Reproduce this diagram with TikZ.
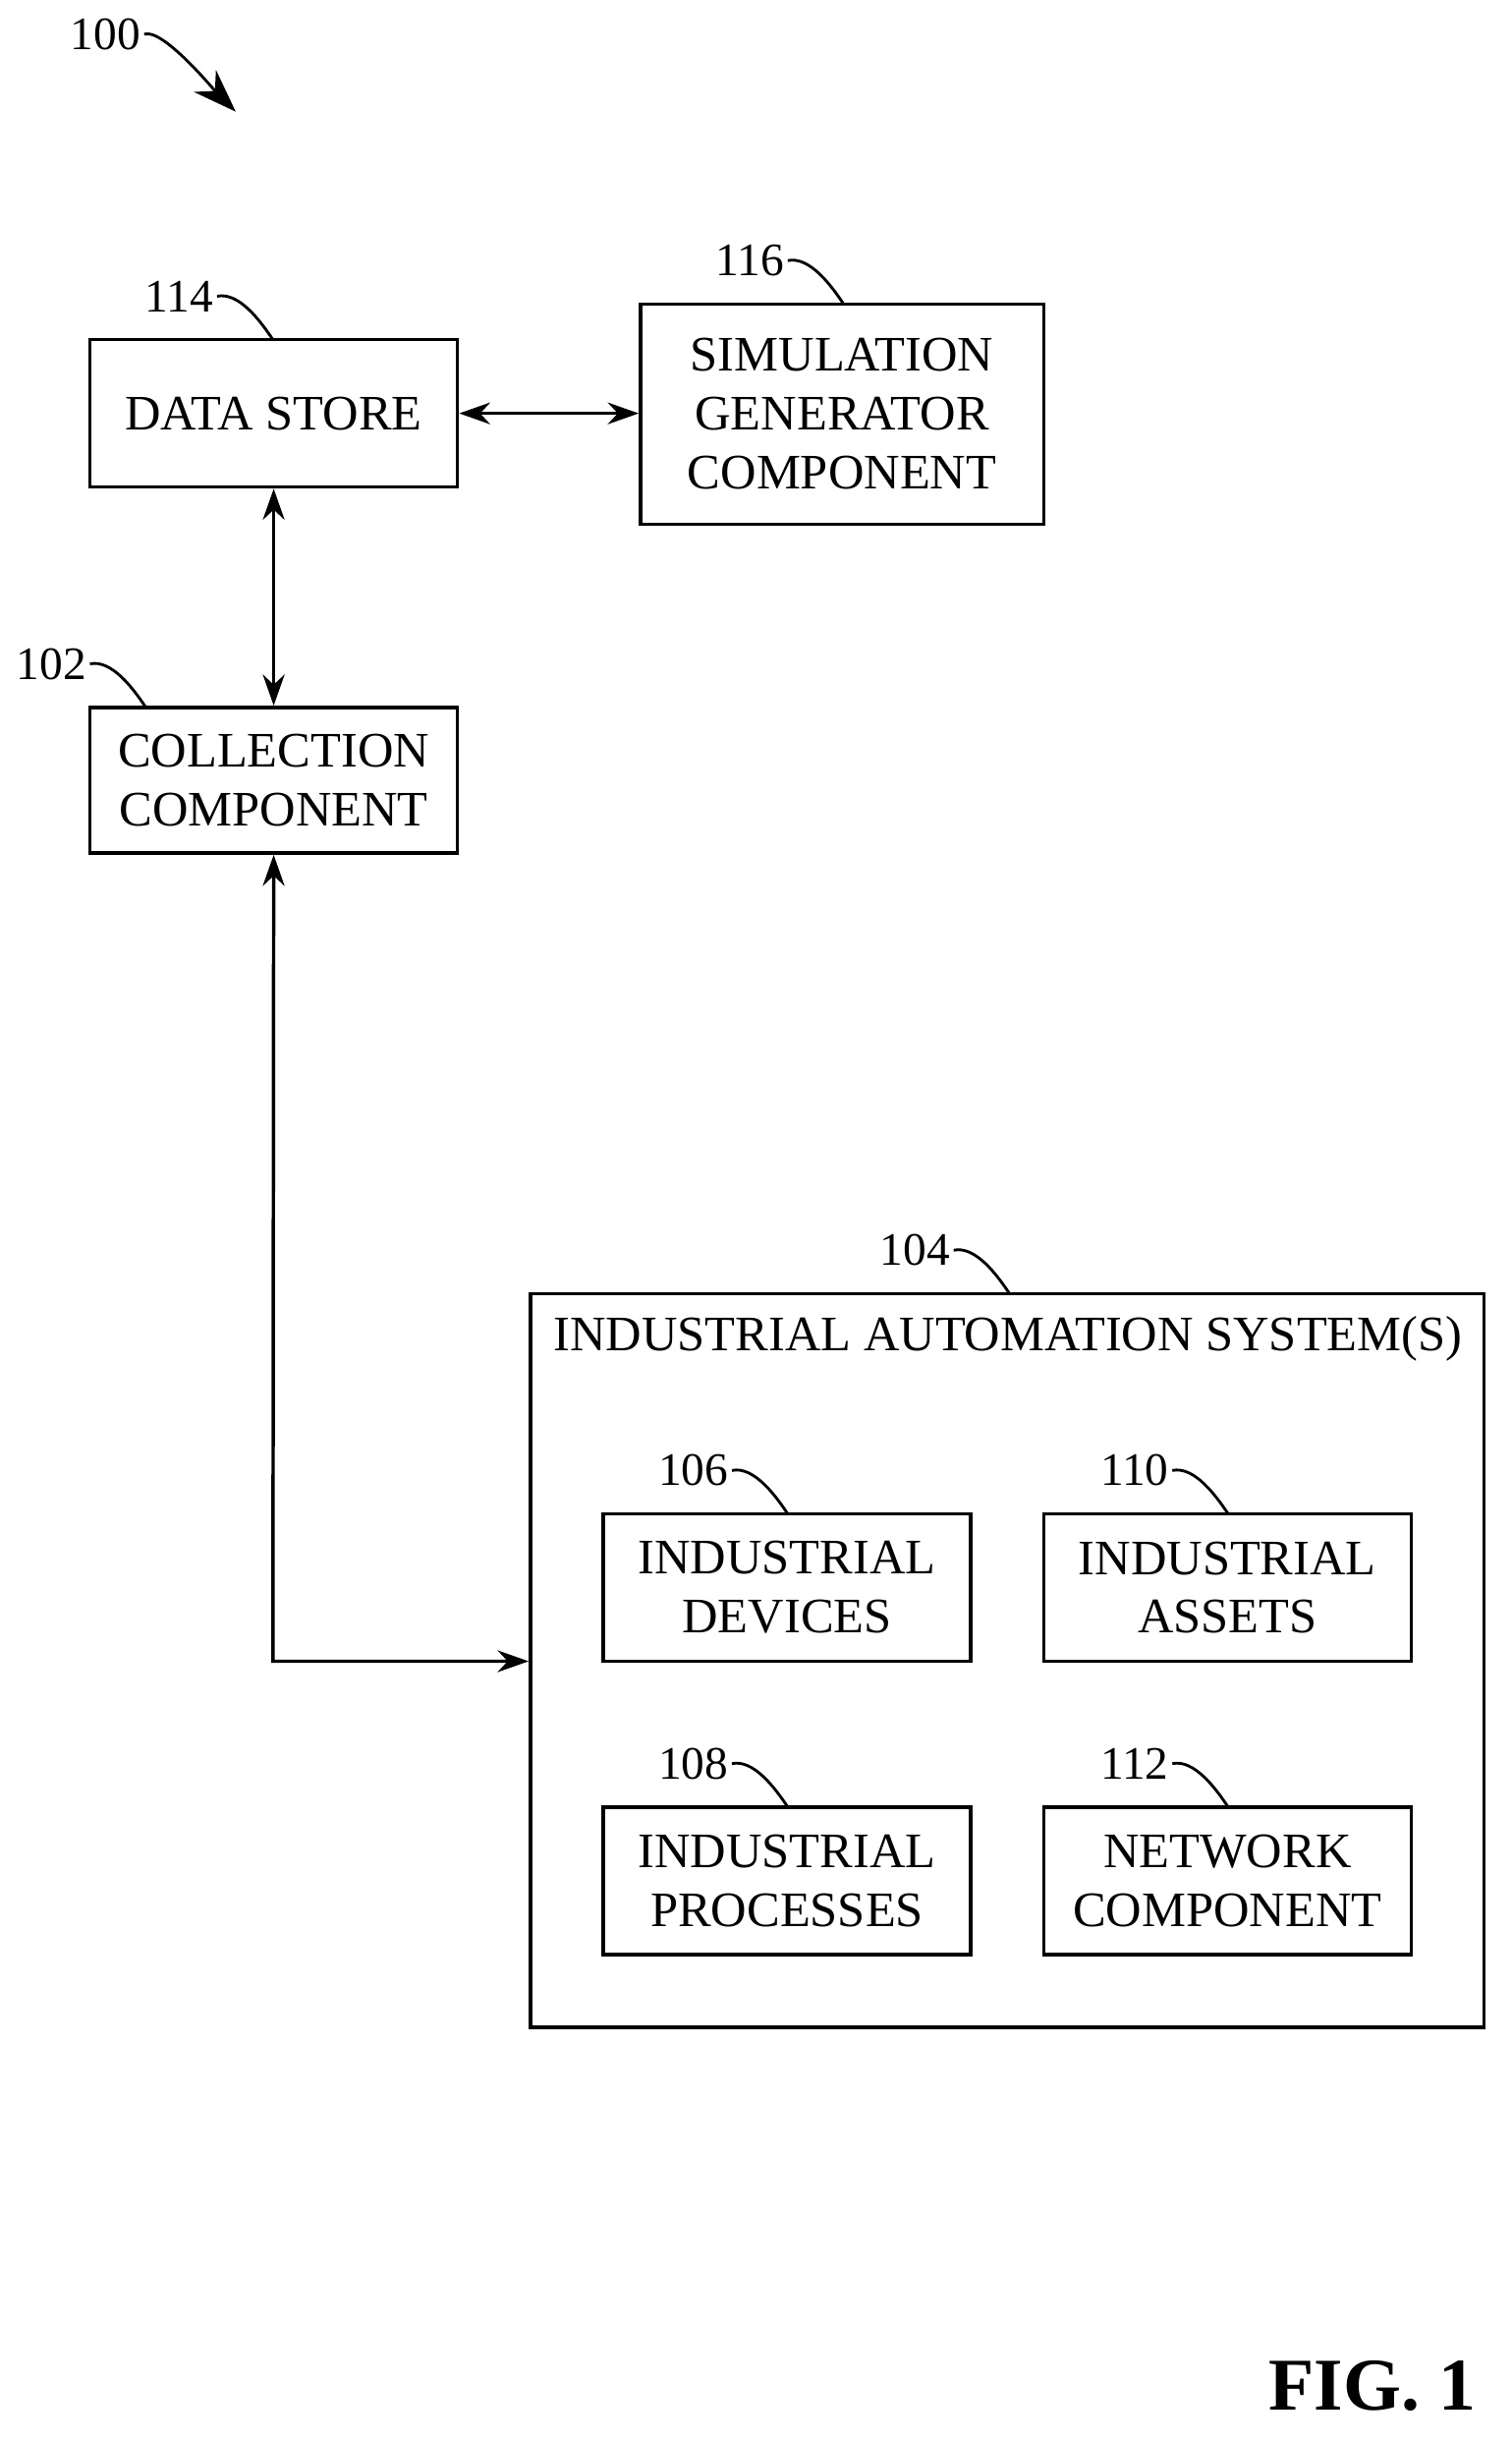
\documentclass[tikz,border=0pt]{standalone}
\usepackage{fontspec}
\setmainfont{Liberation Serif}
\usetikzlibrary{arrows.meta}
\begin{document}
\begin{tikzpicture}[x=0.5pt,y=-0.5pt,
 box/.style={draw,line width=1.1pt,inner sep=0pt,align=center,font=\fontsize{16}{19}\selectfont},
 lbl/.style={font=\fontsize{15}{16}\selectfont,inner sep=1pt},
 arr/.style={line width=1.1pt,{Stealth[length=10pt,width=7pt]}-{Stealth[length=10pt,width=7pt]}},
 lead/.style={line width=0.9pt}]
\useasboundingbox (0,0) rectangle (975,1575);
\newcommand\bx[6]{\node[box,minimum width=(#3-#1)*0.5pt,minimum height=(#4-#2)*0.5pt] (#5) at ({(#1+#3)/2},{(#2+#4)/2}) {#6};}
\bx{58}{219}{295}{314}{ds}{DATA STORE}
\bx{413}{196}{673}{338}{sim}{SIMULATION\\GENERATOR\\COMPONENT}
\bx{58}{456}{295}{550}{col}{COLLECTION\\COMPONENT}
\bx{342}{834}{957}{1307}{ias}{}
\node[font=\fontsize{16}{19}\selectfont] (iat) at (650,863) {INDUSTRIAL AUTOMATION SYSTEM(S)};
\bx{389}{976}{626}{1071}{dev}{INDUSTRIAL\\DEVICES}
\bx{673}{976}{910}{1071}{ast}{INDUSTRIAL\\ASSETS}
\bx{389}{1165}{626}{1260}{prc}{INDUSTRIAL\\PROCESSES}
\bx{673}{1165}{910}{1260}{net}{NETWORK\\COMPONENT}
\newcommand\refl[4]{\node[lbl,anchor=east] (#4) at (#1,#2) {#3};
 \coordinate (#4t) at ({#1+36},{#2+28});
 \draw[lead] (#4.east) .. controls +(14,-3) and +(-8,-12) .. (#4t);}
\refl{140}{191}{114}{r114}
\refl{508}{168}{116}{r116}
\refl{58}{428}{102}{r102}
\refl{615}{806}{104}{r104}
\refl{472}{948}{106}{r106}
\refl{756}{948}{110}{r110}
\refl{472}{1137}{108}{r108}
\refl{756}{1137}{112}{r112}
\node[lbl,anchor=east] (r100) at (93,22) {100};
\coordinate (a100) at (152,72);
\draw[lead,-{Stealth[length=14pt,width=10pt]}] (r100.east) .. controls +(12,-4) and +(-14,-14) .. (a100);
\draw[arr] (ds.east) -- (sim.west |- ds.east);
\draw[arr] (ds.south) -- (col.north);
\coordinate (corner) at (176,1071);
\draw[arr] (col.south) -- (corner) -- (ias.west |- corner);
\node[font=\bfseries\fontsize{24}{28}\selectfont] (fig) at (885,1538) {FIG. 1};
\end{tikzpicture}
\end{document}
